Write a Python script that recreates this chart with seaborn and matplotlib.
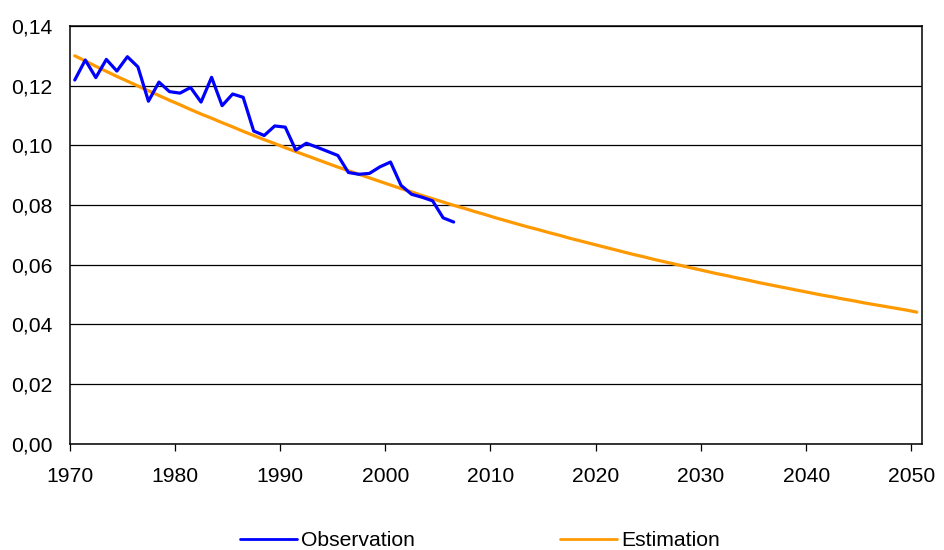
import numpy as np
import pandas as pd
import matplotlib
matplotlib.use("Agg")
import matplotlib.pyplot as plt
import seaborn as sns
from matplotlib.ticker import FuncFormatter

# ---- data ----
obs_years = list(range(1970, 2007))
obs_values = [0.1219, 0.1286, 0.1227, 0.1288, 0.1249, 0.1297, 0.1263, 0.1148,
              0.1212, 0.1180, 0.1175, 0.1194, 0.1145, 0.1228, 0.1133, 0.1172,
              0.1161, 0.1048, 0.1033, 0.1065, 0.1061, 0.0984, 0.1007, 0.0994,
              0.0980, 0.0966, 0.0909, 0.0903, 0.0906, 0.0928, 0.0944, 0.0866,
              0.0836, 0.0826, 0.0814, 0.0757, 0.0743]

est_years = list(range(1970, 2051))
est_values = [0.1300, 0.1283, 0.1265, 0.1248, 0.1231, 0.1215, 0.1199, 0.1183,
              0.1167, 0.1151, 0.1136, 0.1120, 0.1105, 0.1091, 0.1076, 0.1062,
              0.1047, 0.1033, 0.1019, 0.1006, 0.0992, 0.0979, 0.0966, 0.0953,
              0.0940, 0.0927, 0.0915, 0.0903, 0.0891, 0.0879, 0.0867, 0.0855,
              0.0844, 0.0832, 0.0821, 0.0810, 0.0799, 0.0789, 0.0778, 0.0768,
              0.0757, 0.0747, 0.0737, 0.0727, 0.0718, 0.0708, 0.0699, 0.0689,
              0.0680, 0.0671, 0.0662, 0.0653, 0.0644, 0.0635, 0.0627, 0.0618,
              0.0610, 0.0602, 0.0594, 0.0586, 0.0578, 0.0570, 0.0563, 0.0555,
              0.0548, 0.0540, 0.0533, 0.0526, 0.0519, 0.0512, 0.0505, 0.0498,
              0.0492, 0.0485, 0.0479, 0.0472, 0.0466, 0.0460, 0.0454, 0.0448,
              0.0441]

x_ticks = [1970, 1980, 1990, 2000, 2010, 2020, 2030, 2040, 2050]
y_ticks = [0.00, 0.02, 0.04, 0.06, 0.08, 0.10, 0.12, 0.14]
series_names = ["Observation", "Estimation"]

# ---- style ----
sns.set_style("white")
plt.rcParams["font.family"] = ["Liberation Sans", "DejaVu Sans"]
plt.rcParams["text.color"] = "black"
plt.rcParams["xtick.color"] = "black"
plt.rcParams["ytick.color"] = "black"
plt.rcParams["xtick.labelcolor"] = "black"
plt.rcParams["ytick.labelcolor"] = "black"
FS = 15.2

obs_df = pd.DataFrame({"x": np.array(obs_years) + 0.5, "y": obs_values})
est_df = pd.DataFrame({"x": np.array(est_years) + 0.5, "y": est_values})

fig = plt.figure(figsize=(9.44, 5.5), dpi=100)
ax = fig.add_axes([69.5 / 944, 1 - 443.7 / 550, (922 - 69.5) / 944, (443.7 - 26) / 550])

sns.lineplot(data=obs_df, x="x", y="y", ax=ax, color="#0000FF", lw=2.3,
             label=series_names[0], zorder=4)
sns.lineplot(data=est_df, x="x", y="y", ax=ax, color="#FF9900", lw=2.3,
             label=series_names[1], zorder=3)

ax.set_xlim(1970, 2051)
ax.set_ylim(0, 0.14)
ax.set_xticks(x_ticks)
ax.set_yticks(y_ticks)
ax.yaxis.set_major_formatter(FuncFormatter(lambda v, p: f"{v:.2f}".replace(".", ",")))
ax.set_xlabel("")
ax.set_ylabel("")
ax.grid(axis="y", color="black", lw=0.9)
ax.set_axisbelow(True)
for s in ax.spines.values():
    s.set_visible(True)
    s.set_color("black")
    s.set_linewidth(1.1)
ax.tick_params(axis="x", direction="out", length=5, width=0.9, color="black",
               labelcolor="black", labelsize=FS, pad=11.5, bottom=True)
ax.tick_params(axis="y", length=0, labelsize=FS, labelcolor="black", pad=12.5, left=False)

handles, labels = ax.get_legend_handles_labels()
ax.get_legend().remove()
leg = fig.legend(handles, labels, loc="center", bbox_to_anchor=(480 / 944, 1 - 541 / 550),
                 ncol=2, frameon=False, fontsize=FS, handlelength=2.7,
                 handletextpad=0.2, columnspacing=6.9, labelcolor="black")
for line in leg.get_lines():
    line.set_linewidth(2.0)

fig.savefig("out.png", dpi=100)
